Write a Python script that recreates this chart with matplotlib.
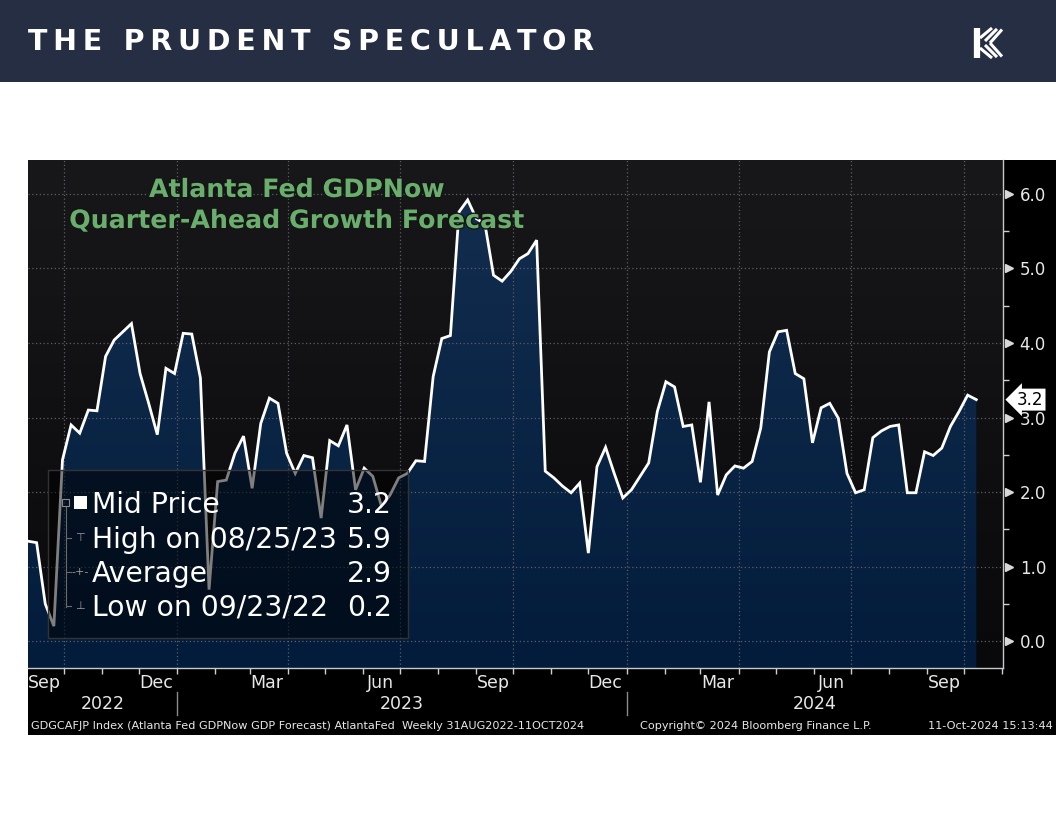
"""Atlanta Fed GDPNow quarter-ahead forecast, Bloomberg-style panel under a
Prudent Speculator header bar."""
import numpy as np
import pandas as pd
import matplotlib
matplotlib.use("Agg")
import matplotlib.pyplot as plt
import matplotlib.dates as mdates
import matplotlib.transforms as mtransforms
import matplotlib.patheffects as pe
from matplotlib.patches import Rectangle, Polygon
from matplotlib.lines import Line2D
from matplotlib.colors import LinearSegmentedColormap

W, H = 1056, 816

# weekly readings (Fridays), 02 Sep 2022 .. 11 Oct 2024
START = "2022-09-02"
GDPNOW = [1.34, 1.32, 0.50, 0.20, 2.43, 2.90, 2.79, 3.10, 3.09, 3.82,
          4.04, 4.15, 4.26, 3.59, 3.19, 2.77, 3.66, 3.59, 4.13, 4.12,
          3.53, 0.69, 2.14, 2.16, 2.52, 2.75, 2.05, 2.92, 3.26, 3.19,
          2.52, 2.25, 2.49, 2.46, 1.65, 2.69, 2.62, 2.90, 2.03, 2.32,
          2.21, 1.81, 1.96, 2.19, 2.25, 2.42, 2.41, 3.55, 4.06, 4.10,
          5.76, 5.92, 5.67, 5.60, 4.91, 4.83, 4.96, 5.13, 5.20, 5.38,
          2.28, 2.19, 2.08, 1.99, 2.12, 1.18, 2.34, 2.60, 2.25, 1.92,
          2.03, 2.21, 2.39, 3.08, 3.48, 3.41, 2.88, 2.90, 2.13, 3.21,
          1.96, 2.23, 2.35, 2.32, 2.41, 2.86, 3.88, 4.15, 4.17, 3.59,
          3.52, 2.66, 3.13, 3.19, 2.99, 2.25, 1.99, 2.03, 2.73, 2.82,
          2.88, 2.90, 1.99, 1.99, 2.54, 2.49, 2.59, 2.88, 3.08, 3.30, 3.24]

Y_TICKS = [0, 1, 2, 3, 4, 5, 6]
MONTH_LABELS = ["Sep", "Dec", "Mar", "Jun"]
YEARS = [2022, 2023, 2024]
LEGEND_ROWS = ["Mid Price", "High on 08/25/23", "Average", "Low on 09/23/22"]
LEGEND_VALS = ["3.2", "5.9", "2.9", "0.2"]
TITLE_LINES = ["Atlanta Fed GDPNow", "Quarter-Ahead Growth Forecast"]
BRAND = "THE PRUDENT SPECULATOR"
FOOT_LEFT = ("GDGCAFJP Index (Atlanta Fed GDPNow GDP Forecast) AtlantaFed  "
             "Weekly 31AUG2022-11OCT2024")
FOOT_MID = "Copyright\u00a9 2024 Bloomberg Finance L.P."
FOOT_RIGHT = "11-Oct-2024 15:13:44"

NAVY = "#262e44"
GREEN = "#6aae6e"
GRID = "#5a5e66"
TXT = "#e8e8e8"


def fx(px):
    return px / W


def fy(py):
    return 1 - py / H


fig = plt.figure(figsize=(W / 100, H / 100), dpi=100)
fig.patch.set_facecolor("white")

# ---- header bar -------------------------------------------------------
hdr = fig.add_axes([0, fy(82), 1, 82 / H])
hdr.set_xlim(0, W)
hdr.set_ylim(82, 0)
hdr.set_facecolor(NAVY)
hdr.set_xticks([])
hdr.set_yticks([])
for s in hdr.spines.values():
    s.set_visible(False)
hdr.text(28, 42, "\u2009".join(BRAND), color="white", fontsize=20.5,
         weight="bold", va="center", ha="left")
# little striped "K" logo
hdr.plot([977, 977], [28, 58], color="white", lw=4.5, solid_capstyle="butt")
for dx, dy in [(0, 0), (5, 3), (10, 5)]:
    hdr.plot([980 + dx, 992 + dx], [38 + dy, 28 + dy * 0.3], color="white",
             lw=2.2, solid_capstyle="butt")
    hdr.plot([980 + dx, 992 + dx], [48 - dy, 58 - dy * 0.3], color="white",
             lw=2.2, solid_capstyle="butt")

# ---- bloomberg panel background ---------------------------------------
bg = fig.add_axes([fx(28), fy(735), 1028 / W, 575 / H], zorder=-1)
bg.set_facecolor("black")
bg.set_xticks([])
bg.set_yticks([])
for s in bg.spines.values():
    s.set_visible(False)

ax = fig.add_axes([fx(28), fy(668), 975 / W, 508 / H])
dates = pd.date_range(START, periods=len(GDPNOW), freq="7D")
x = mdates.date2num(dates)
y = np.array(GDPNOW)
x0 = x[0]
x1 = x0 + 113.1 * 7
y0, y1 = -0.362, 6.456

bg_cmap = LinearSegmentedColormap.from_list("bg", ["#09090b", "#18181b"])
ax.imshow(np.linspace(0, 1, 256).reshape(-1, 1), extent=[x0, x1, y0, y1],
          origin="lower", aspect="auto", cmap=bg_cmap, zorder=0)

fill_cmap = LinearSegmentedColormap.from_list("fill", ["#031c3c", "#122d4e"])
im = ax.imshow(np.linspace(0, 1, 256).reshape(-1, 1),
               extent=[x0, x1, y0, 6.0], origin="lower", aspect="auto",
               cmap=fill_cmap, zorder=1)
area = Polygon(np.column_stack([np.r_[x[0], x, x[-1]], np.r_[y0, y, y0]]),
               closed=True, fc="none", ec="none", transform=ax.transData)
ax.add_patch(area)
im.set_clip_path(area)

for v in Y_TICKS:
    ax.axhline(v, color=GRID, lw=0.9, ls=(0, (1, 2)), zorder=2)
for d in pd.date_range("2022-10-01", "2024-10-01", freq="QS"):
    ax.axvline(mdates.date2num(d), color=GRID, lw=0.9, ls=(0, (1, 2)), zorder=2)

ax.plot(x, y, color="white", lw=2.0, zorder=3, solid_joinstyle="miter")

ax.set_xlim(x0, x1)
ax.set_ylim(y0, y1)

# right value axis
ax.yaxis.tick_right()
ax.set_yticks(Y_TICKS)
ax.set_yticklabels([f"{v:.1f}" for v in Y_TICKS])
ax.set_yticks(np.arange(0.5, 6.0, 1.0), minor=True)
ax.tick_params(axis="y", which="major", length=0, pad=12, labelsize=12,
               labelcolor=TXT)
ax.tick_params(axis="y", which="minor", length=4, width=1, color="#cfcfcf")
tri = mtransforms.blended_transform_factory(ax.transAxes, ax.transData)
tri_off = mtransforms.offset_copy(tri, fig=fig, x=5.5, units="dots")
ax.plot([1.0] * len(Y_TICKS), Y_TICKS, ls="none", marker=">", ms=5.5,
        color="#d8d8d8", transform=tri_off, clip_on=False)

# last value tag
tag_off = mtransforms.offset_copy(tri, fig=fig, x=14, units="dots")
ax.text(1.0, y[-1], LEGEND_VALS[0], transform=tag_off, ha="left",
        va="center", fontsize=12, color="black", clip_on=False, zorder=6,
        bbox=dict(boxstyle="larrow,pad=0.12", fc="white", ec="none"))

# time axis
ax.xaxis.set_major_locator(mdates.MonthLocator())
ax.tick_params(axis="x", which="major", length=4, width=1, color="#d0d0d0",
               labelbottom=False)
for side in ["top", "left"]:
    ax.spines[side].set_visible(False)
for side in ["right", "bottom"]:
    ax.spines[side].set_color("#c8c8c8")
    ax.spines[side].set_linewidth(1)

lab = mtransforms.blended_transform_factory(ax.transData, ax.transAxes)
for d in pd.date_range("2022-09-01", "2024-09-01", freq="MS"):
    name = d.strftime("%b")
    if name in MONTH_LABELS:
        xm = mdates.date2num(d + pd.Timedelta(days=14))
        ax.text(xm, -0.0295, name, transform=lab, ha="center", va="center",
                fontsize=12.5, color=TXT, clip_on=False)
for yr in YEARS:
    a = max(x0, mdates.date2num(pd.Timestamp(f"{yr}-01-01")))
    b = min(x1, mdates.date2num(pd.Timestamp(f"{yr + 1}-01-01")))
    ax.text((a + b) / 2, -0.071, str(yr), transform=lab, ha="center",
            va="center", fontsize=12.5, color=TXT, clip_on=False)
    if a > x0:
        ax.plot([a, a], [-0.047, -0.093], transform=lab, color="#8a8a8a",
                lw=1, clip_on=False)

# chart title
for i, line in enumerate(TITLE_LINES):
    fig.text(fx(297), fy(190 + 31 * i), line, ha="center", va="center",
             fontsize=18.2, weight="bold", color=GREEN,
             path_effects=[pe.withStroke(linewidth=2, foreground="#151515")])

# ---- legend box -------------------------------------------------------
fig.add_artist(Rectangle((fx(48), fy(638)), 360 / W, 168 / H,
                         transform=fig.transFigure, fc=(0, 0, 0, 0.5),
                         ec="#333333", lw=1, zorder=4))
fig.add_artist(Rectangle((fx(74), fy(509)), 13 / W, 13 / H,
                         transform=fig.transFigure, fc="white", ec="none",
                         zorder=5))
fig.add_artist(Rectangle((fx(62), fy(506)), 7 / W, 7 / H,
                         transform=fig.transFigure, fc="none", ec="#8a8a8a",
                         lw=0.8, zorder=5))
fig.add_artist(Line2D([fx(65.5), fx(65.5)], [fy(507), fy(607)],
                      transform=fig.transFigure, color="#6a6a6a", lw=0.8,
                      zorder=5))
baselines = [513, 548, 582, 616]
marks = [None, "\u22a4", "-+-", "\u22a5"]
for row, val, base, mk in zip(LEGEND_ROWS, LEGEND_VALS, baselines, marks):
    fig.text(fx(92), fy(base), row, ha="left", va="baseline", fontsize=20.3,
             color="white", zorder=5)
    fig.text(fx(392), fy(base), val, ha="right", va="baseline",
             fontsize=20.3, color="white", zorder=5)
    if mk:
        fig.add_artist(Line2D([fx(65.5), fx(71)], [fy(base - 10)] * 2,
                              transform=fig.transFigure, color="#6a6a6a",
                              lw=0.8, zorder=5))
        fig.text(fx(80), fy(base - 10), mk, ha="center", va="center",
                 fontsize=8, color="#9a9a9a", zorder=5)

# ---- footer ------------------------------------------------------------
fig.text(fx(31), fy(726), FOOT_LEFT, ha="left", va="center", fontsize=8.1,
         color=TXT)
fig.text(fx(640), fy(726), FOOT_MID, ha="left", va="center", fontsize=8.1,
         color=TXT)
fig.text(fx(1053), fy(726), FOOT_RIGHT, ha="right", va="center",
         fontsize=8.1, color=TXT)

fig.savefig("out.png", dpi=100)
plt.close(fig)
